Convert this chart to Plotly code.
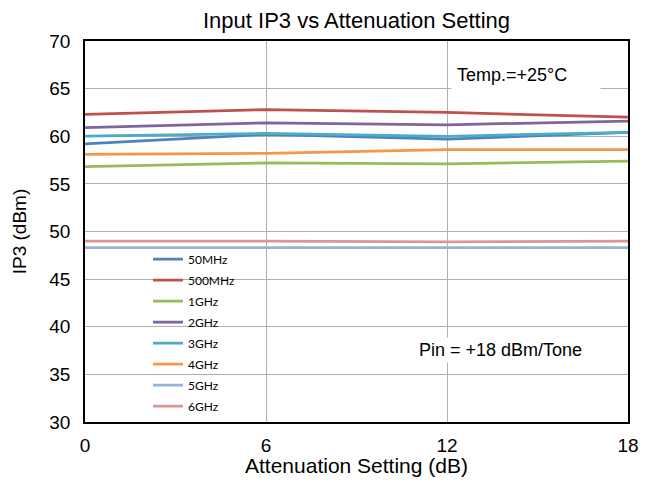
import plotly.graph_objects as go

atten = [0, 6, 12, 18]
series_names = ["50MHz", "500MHz", "1GHz", "2GHz", "3GHz", "4GHz", "5GHz", "6GHz"]
ip3_50mhz = [59.2, 60.2, 59.7, 60.4]
ip3_500mhz = [62.3, 62.8, 62.5, 62.0]
ip3_1ghz = [56.8, 57.2, 57.1, 57.4]
ip3_2ghz = [60.9, 61.4, 61.2, 61.6]
ip3_3ghz = [60.0, 60.3, 60.0, 60.4]
ip3_4ghz = [58.1, 58.2, 58.6, 58.6]
ip3_5ghz = [48.3, 48.3, 48.3, 48.3]
ip3_6ghz = [49.0, 49.0, 48.9, 49.0]
values = [ip3_50mhz, ip3_500mhz, ip3_1ghz, ip3_2ghz, ip3_3ghz, ip3_4ghz, ip3_5ghz, ip3_6ghz]
colors = ["#4F81BD", "#C0504D", "#9BBB59", "#8064A2", "#4BACC6", "#F79646", "#95B3D7", "#D99694"]

fig = go.Figure()
for name, v, c in zip(series_names, values, colors):
    fig.add_trace(go.Scatter(x=atten, y=v, mode="lines", name=name, legendgroup=name,
                             line=dict(color=c, width=2.75)))

fig.update_layout(
    width=638, height=469,
    margin=dict(l=77, r=18, t=33, b=55, autoexpand=False),
    paper_bgcolor="white", plot_bgcolor="white",
    font=dict(family="Liberation Sans, Arial", color="black"),
    title=dict(text="Input IP3 vs Attenuation Setting", x=0.5, xanchor="center",
               xref="paper", yref="container",
               y=0.974, yanchor="middle", font=dict(size=22)),
    showlegend=True,
    legend=dict(x=0.116, y=0.4655, xanchor="left", yanchor="top",
                bgcolor="rgba(0,0,0,0)", borderwidth=0, tracegroupgap=2,
                traceorder="grouped",
                font=dict(family="Lato, Carlito, Calibri", size=12),
                itemwidth=30),
    xaxis=dict(range=[0, 18], tickvals=[0, 6, 12, 18], showgrid=True,
               gridcolor="#b0b0b0", gridwidth=1, showline=True, linecolor="black",
               linewidth=1.5, mirror=True, ticks="", zeroline=False,
               automargin=False,
               tickfont=dict(size=19), ticklabelstandoff=5,
               title=dict(text="Attenuation Setting (dB)", font=dict(size=21), standoff=4)),
    yaxis=dict(range=[30, 70], dtick=5, showgrid=True, gridcolor="#b0b0b0",
               gridwidth=1, showline=True, linecolor="black", linewidth=1.5,
               mirror=True, ticks="", zeroline=False, tickfont=dict(size=19),
               automargin=False, ticklabelstandoff=9,
               title=dict(text="IP3 (dBm)", font=dict(size=19), standoff=18)),
)

# white backdrop behind the legend (hides gridlines, keeps frame and traces)
fig.add_shape(type="rect", xref="paper", yref="paper",
              x0=0.129, x1=0.278, y0=0.0, y1=0.451,
              fillcolor="white", line=dict(width=0), layer="between")

fig.add_annotation(x=0.674, y=0.911, xref="paper", yref="paper",
                   text="Temp.=+25°C", showarrow=False, bgcolor="white",
                   font=dict(size=18), xanchor="left", yanchor="middle",
                   align="left", width=138, height=20, borderpad=5)
fig.add_annotation(x=0.766, y=0.189, xref="paper", yref="paper",
                   text="Pin = +18 dBm/Tone", showarrow=False, bgcolor="white",
                   font=dict(size=18), xanchor="center", yanchor="middle",
                   borderpad=2)

fig.write_html("out.html")
